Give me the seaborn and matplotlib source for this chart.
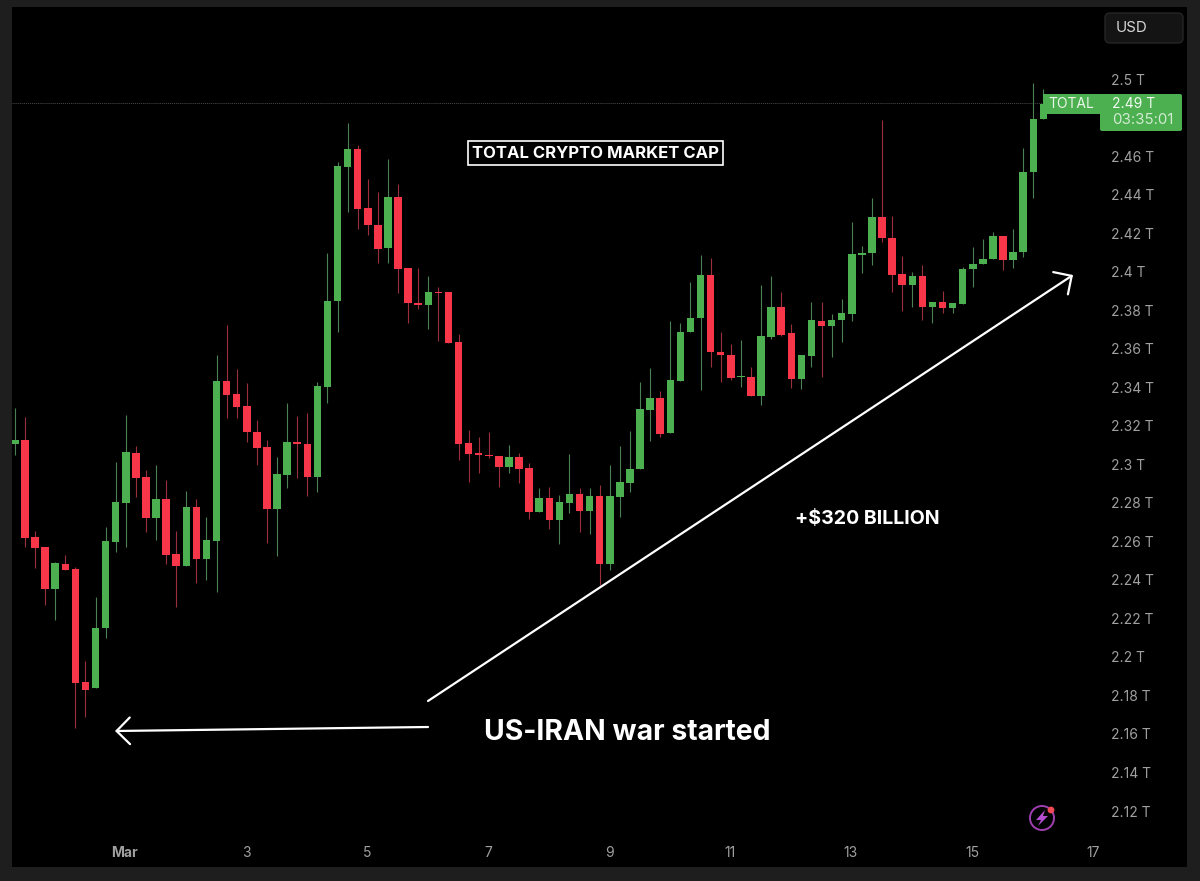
import numpy as np
import pandas as pd
import matplotlib
matplotlib.use("Agg")
import matplotlib.pyplot as plt
import matplotlib.patches as patches
from matplotlib.transforms import IdentityTransform
import seaborn as sns

# 4h candles, values in trillions USD
open_ = [2.3105, 2.3126, 2.2622, 2.2570, 2.2352, 2.2482, 2.2456, 2.1870, 2.1838, 2.2150, 2.2596, 2.2799, 2.3058, 2.2933, 2.2721, 2.2819, 2.2534, 2.2472, 2.2778, 2.2508,
         2.2601, 2.3432, 2.3364, 2.3302, 2.3167, 2.3089, 2.2767, 2.2944, 2.3115, 2.3105, 2.2933, 2.3401, 2.3847, 2.4542, 2.4636, 2.4330, 2.4241, 2.4122, 2.4387, 2.4018,
         2.3837, 2.3826, 2.3894, 2.3894, 2.3634, 2.3110, 2.3058, 2.3048, 2.3042, 2.2985, 2.3037, 2.2980, 2.2752, 2.2824, 2.2710, 2.2799, 2.2845, 2.2757, 2.2835, 2.2482,
         2.2830, 2.2902, 2.2975, 2.3281, 2.3343, 2.3162, 2.3432, 2.3686, 2.3759, 2.3982, 2.3582, 2.3567, 2.3453, 2.3453, 2.3354, 2.3660, 2.3816, 2.3681, 2.3442, 2.3561,
         2.3743, 2.3717, 2.3748, 2.3779, 2.4086, 2.4096, 2.4283, 2.4174, 2.3987, 2.3930, 2.3977, 2.3816, 2.3842, 2.3811, 2.3831, 2.4013, 2.4039, 2.4065, 2.4184, 2.4060,
         2.4101, 2.4516, 2.4791]
high = [2.3292, 2.3245, 2.2653, 2.2570, 2.2492, 2.2529, 2.2466, 2.1979, 2.2311, 2.2674, 2.3011, 2.3255, 2.3094, 2.2970, 2.2996, 2.2918, 2.2653, 2.2861, 2.2819, 2.2726,
        2.3567, 2.3722, 2.3494, 2.3421, 2.3229, 2.3126, 2.3037, 2.3318, 2.3250, 2.3266, 2.3427, 2.4096, 2.4568, 2.4771, 2.4657, 2.4480, 2.4413, 2.4584, 2.4454, 2.4018,
        2.4018, 2.3977, 2.3920, 2.3894, 2.3676, 2.3177, 2.3141, 2.3167, 2.3042, 2.3100, 2.3058, 2.3006, 2.2876, 2.2882, 2.2840, 2.3053, 2.2876, 2.2876, 2.2892, 2.2996,
        2.3094, 2.3172, 2.3427, 2.3499, 2.3380, 2.3743, 2.3733, 2.3946, 2.4086, 2.4070, 2.3686, 2.3624, 2.3644, 2.3504, 2.3930, 2.3977, 2.3894, 2.3728, 2.3567, 2.3842,
        2.3842, 2.3779, 2.3857, 2.4257, 2.4132, 2.4381, 2.4786, 2.4288, 2.4080, 2.3997, 2.4034, 2.3842, 2.3899, 2.3837, 2.4023, 2.4127, 2.4169, 2.4205, 2.4184, 2.4221,
        2.4641, 2.4978, 2.4947]
low = [2.3048, 2.2570, 2.2461, 2.2269, 2.2191, 2.2451, 2.1631, 2.1688, 2.1838, 2.2098, 2.2544, 2.2570, 2.2830, 2.2648, 2.2606, 2.2482, 2.2259, 2.2472, 2.2383, 2.2399,
       2.2337, 2.3240, 2.3240, 2.3115, 2.2996, 2.2591, 2.2523, 2.2876, 2.2928, 2.2835, 2.2856, 2.3318, 2.3686, 2.4309, 2.4221, 2.4189, 2.4044, 2.4044, 2.3888, 2.3733,
       2.3805, 2.3702, 2.3639, 2.3629, 2.3022, 2.2908, 2.2954, 2.3032, 2.2882, 2.2954, 2.2902, 2.2715, 2.2752, 2.2664, 2.2586, 2.2747, 2.2648, 2.2638, 2.2373, 2.2451,
       2.2726, 2.2856, 2.2975, 2.3120, 2.3141, 2.3162, 2.3432, 2.3686, 2.3385, 2.3504, 2.3427, 2.3437, 2.3401, 2.3354, 2.3307, 2.3650, 2.3665, 2.3395, 2.3390, 2.3504,
       2.3453, 2.3556, 2.3634, 2.3743, 2.3992, 2.4034, 2.4153, 2.3894, 2.3795, 2.3816, 2.3748, 2.3733, 2.3785, 2.3785, 2.3831, 2.3920, 2.4039, 2.4065, 2.4008, 2.4018,
       2.4075, 2.4381, 2.4791]
close = [2.3126, 2.2617, 2.2565, 2.2352, 2.2487, 2.2451, 2.1864, 2.1828, 2.2150, 2.2601, 2.2804, 2.3063, 2.2928, 2.2721, 2.2819, 2.2529, 2.2472, 2.2778, 2.2508, 2.2606,
         2.3432, 2.3359, 2.3297, 2.3167, 2.3084, 2.2767, 2.2949, 2.3115, 2.3105, 2.2933, 2.3406, 2.3847, 2.4548, 2.4636, 2.4324, 2.4241, 2.4117, 2.4387, 2.4013, 2.3837,
         2.3826, 2.3894, 2.3888, 2.3629, 2.3105, 2.3053, 2.3048, 2.3042, 2.2985, 2.3037, 2.2975, 2.2752, 2.2824, 2.2710, 2.2804, 2.2845, 2.2757, 2.2835, 2.2482, 2.2835,
         2.2908, 2.2975, 2.3286, 2.3343, 2.3157, 2.3437, 2.3686, 2.3759, 2.3982, 2.3582, 2.3567, 2.3447, 2.3458, 2.3354, 2.3665, 2.3816, 2.3670, 2.3442, 2.3567, 2.3748,
         2.3717, 2.3748, 2.3785, 2.4091, 2.4096, 2.4283, 2.4174, 2.3982, 2.3930, 2.3977, 2.3816, 2.3842, 2.3811, 2.3837, 2.4013, 2.4039, 2.4065, 2.4184, 2.4060, 2.4101,
         2.4516, 2.4791, 2.4869]

first_candle_day = -0.82
day_ticks = [1, 3, 5, 7, 9, 11, 13, 15, 17]
day_labels = ["Mar", "3", "5", "7", "9", "11", "13", "15", "17"]
price_ticks = [2.12, 2.14, 2.16, 2.18, 2.2, 2.22, 2.24, 2.26, 2.28, 2.3, 2.32, 2.34, 2.36, 2.38, 2.4, 2.42, 2.44, 2.46, 2.5]
price_labels = ["2.12 T", "2.14 T", "2.16 T", "2.18 T", "2.2 T", "2.22 T", "2.24 T", "2.26 T", "2.28 T", "2.3 T", "2.32 T", "2.34 T",
                "2.36 T", "2.38 T", "2.4 T", "2.42 T", "2.44 T", "2.46 T", "2.5 T"]
last_price = 2.4875

GREEN = "#4caf50"
RED = "#f7364a"
GREEN_WICK = "#4b8053"
RED_WICK = "#99303c"
TICK = "#a0a0a0"
W, H = 1200, 881

sns.set_theme(style="dark", rc={"axes.facecolor": "black", "figure.facecolor": "#1e1e1e"})
plt.rcParams["font.family"] = ["Inter", "DejaVu Sans"]

df = pd.DataFrame({"open": open_, "high": high, "low": low, "close": close})
df["t"] = first_candle_day + df.index / 6
df["top"] = df[["open", "close"]].max(axis=1)
df["bottom"] = df[["open", "close"]].min(axis=1)
df["height"] = df["top"] - df["bottom"]
df["up"] = df["close"] >= df["open"]

fig = plt.figure(figsize=(W / 100, H / 100), dpi=100)
px = IdentityTransform()
fig.add_artist(patches.Rectangle((12, H - 867), 1175, 860, transform=px, facecolor="black", edgecolor="none", zorder=-1))
ax = fig.add_axes([12 / W, (H - 842) / H, 1088 / W, 835 / H])

for is_up, body, wick in [(True, GREEN, GREEN_WICK), (False, RED, RED_WICK)]:
    part = df[df["up"] == is_up]
    ax.vlines(part["t"], part["low"], part["high"], color=wick, linewidth=0.8, zorder=1)
    sns.barplot(data=part, x="t", y="height", bottom=part["bottom"], native_scale=True, color=body, saturation=1,
                width=0.74, errorbar=None, linewidth=0, zorder=2, ax=ax)

ax.axhline(last_price, color="#4a4a4a", linewidth=0.7, linestyle=(0, (1, 1)), zorder=0)

ax.set_xlim(1 + (12 - 125) / 60.5, 1 + (1100 - 125) / 60.5)
ax.set_ylim(2.12 + (811 - 842) / 1926, 2.12 + (811 - 7) / 1926)
ax.set_xticks(day_ticks, day_labels)
ax.set_yticks(price_ticks, price_labels)
ax.yaxis.tick_right()
ax.tick_params(axis="x", length=0, pad=3, labelsize=10, labelcolor=TICK)
ax.tick_params(axis="y", length=0, pad=8, labelsize=10, labelcolor=TICK)
ax.get_xticklabels()[0].set_fontweight("bold")
ax.set_xlabel("")
ax.set_ylabel("")
ax.grid(False)
sns.despine(ax=ax, left=True, bottom=True, right=True, top=True)

# annotations drawn over the chart
arrow = dict(arrowstyle="->,head_length=0.4,head_width=0.4", color="white", linewidth=1.6, mutation_scale=24, shrinkA=0, shrinkB=0)
ax.annotate("", xy=(1073, H - 275), xytext=(428, H - 701), xycoords=px, textcoords=px, arrowprops=arrow)
ax.annotate("", xy=(115, H - 731), xytext=(428, H - 727), xycoords=px, textcoords=px, arrowprops=arrow)

fig.text(595.5, H - 153, "TOTAL CRYPTO MARKET CAP", transform=px, color="white", fontsize=12, fontweight="bold", ha="center", va="center",
         bbox=dict(boxstyle="square,pad=0.25", facecolor="black", edgecolor="white", linewidth=1.2))
fig.text(795, H - 519.5, "+$320 BILLION", transform=px, color="white", fontsize=14.1, fontweight="bold", va="center")
fig.text(484, H - 732.5, "US-IRAN war started", transform=px, color="white", fontsize=20.4, fontweight="bold", va="center")

# last price tag and USD button
fig.add_artist(patches.Rectangle((1043, H - 114), 58, 20, transform=px, facecolor=GREEN, edgecolor="none"))
fig.add_artist(patches.FancyBboxPatch((1100, H - 131), 82, 37, boxstyle="round,pad=0,rounding_size=2", transform=px, facecolor=GREEN, edgecolor="none"))
fig.text(1048, H - 104, "TOTAL", transform=px, color="#e8f5e8", fontsize=10, va="center")
fig.text(1112, H - 104, "2.49 T", transform=px, color="#f2faf2", fontsize=10, va="center")
fig.text(1112, H - 120, "03:35:01", transform=px, color="#d2ecd3", fontsize=10.8, va="center")
fig.add_artist(patches.FancyBboxPatch((1105, H - 43), 78, 30, boxstyle="round,pad=0,rounding_size=5", transform=px, facecolor="#141414", edgecolor="#262626", linewidth=1))
fig.text(1116, H - 27.5, "USD", transform=px, color="#d8d8d8", fontsize=10.8, va="center")

# bolt badge
fig.add_artist(patches.Circle((1042, H - 818), 12, transform=px, facecolor="none", edgecolor="#a040b0", linewidth=1.4))
fig.add_artist(patches.Polygon([(1045, H - 810), (1036, H - 820), (1041, H - 820), (1038, H - 826), (1048, H - 816), (1043, H - 816)],
                               transform=px, facecolor="#b44fd0", edgecolor="none"))
fig.add_artist(patches.Circle((1051, H - 810), 3.4, transform=px, facecolor="#ef4a55", edgecolor="none"))

fig.savefig("out.png", dpi=100)
